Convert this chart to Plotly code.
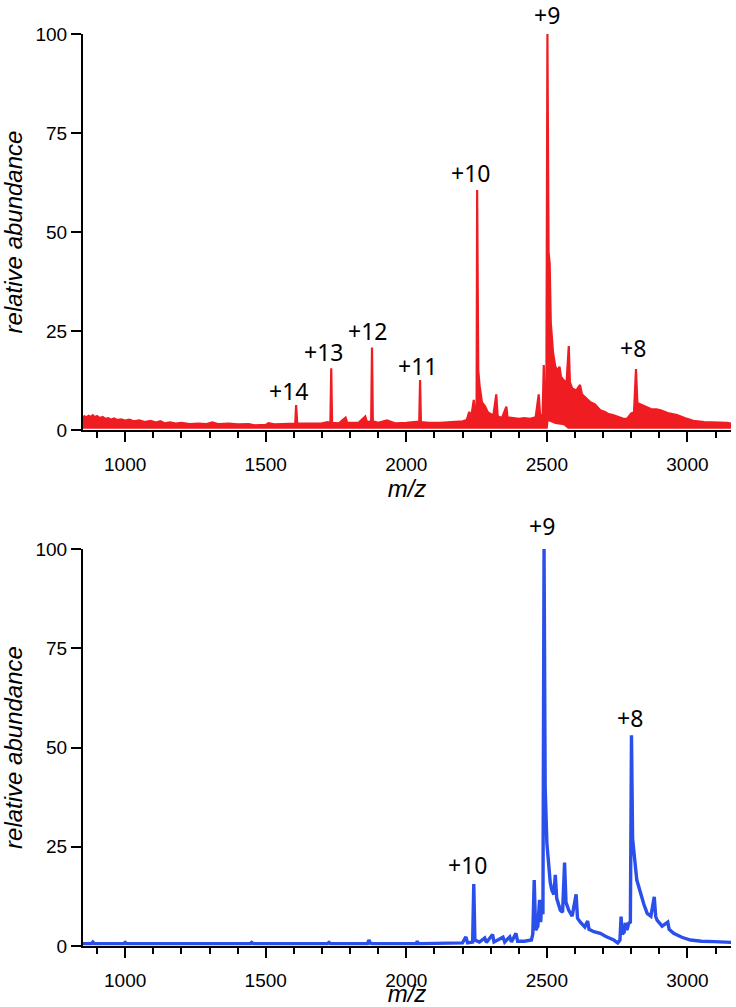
import plotly.graph_objects as go

RED = "#EF1D22"
BLUE = "#2A4FEA"

# ---------------- top spectrum (red) ----------------
top_mz = [850, 855, 862, 870, 878, 885, 892, 900, 910, 920, 930, 940, 950, 960, 972, 985,
          1000, 1015, 1030, 1050, 1070, 1090, 1110, 1125, 1140, 1160, 1180, 1200, 1230, 1260,
          1290, 1310, 1330, 1370, 1400, 1440, 1460, 1500, 1510, 1530, 1560, 1590, 1605, 1608,
          1612, 1650, 1700, 1720, 1730, 1733, 1736, 1760, 1784, 1790, 1830, 1854, 1860, 1875,
          1878, 1881, 1900, 1931, 1960, 2000, 2030, 2046, 2049, 2052, 2080, 2120, 2160, 2200,
          2215, 2224, 2230, 2240, 2245, 2250, 2252, 2256, 2261, 2269, 2280, 2290, 2300, 2310,
          2320, 2325, 2340, 2356, 2360, 2380, 2400, 2420, 2440, 2460, 2471, 2476, 2485, 2489,
          2493, 2498, 2502, 2506, 2510, 2514, 2518, 2522, 2530, 2538, 2545, 2550, 2560, 2570,
          2578, 2582, 2590, 2605, 2618, 2625, 2640, 2655, 2670, 2690, 2705, 2720, 2735, 2750,
          2770, 2785, 2800, 2810, 2817, 2822, 2833, 2850, 2870, 2890, 2905, 2930, 2963, 2990,
          3021, 3060, 3100, 3141, 3160]
top_int = [3.0, 3.5, 3.2, 3.6, 3.3, 3.7, 3.2, 3.5, 3.0, 3.3, 2.8, 3.0, 2.6, 2.9, 2.5, 2.7,
           2.4, 2.6, 2.2, 2.4, 2.0, 2.3, 1.9, 2.2, 1.7, 1.9, 1.6, 1.8, 1.5, 1.6,
           1.5, 1.9, 1.5, 1.6, 1.4, 1.5, 1.2, 1.3, 1.7, 1.4, 1.5, 1.6, 1.6, 6.3,
           1.6, 1.6, 1.7, 2.0, 1.8, 15.6, 1.8, 1.7, 3.1, 1.8, 1.8, 3.4, 2.0, 2.2,
           20.8, 2.2, 1.8, 2.4, 1.7, 1.8, 2.0, 2.1, 12.6, 2.0, 1.8, 1.8, 2.0, 2.2,
           2.5, 4.6, 2.8, 7.6, 4.0, 5.0, 60.6, 15.0, 11.0, 7.0, 6.0, 4.5, 4.0, 3.8,
           9.0, 3.5, 3.0, 5.9, 3.2, 3.0, 2.8, 3.0, 2.8, 3.2, 9.0, 3.5, 4.0, 16.4,
           5.0, 3.0, 100.0, 45.0, 42.0, 27.0, 22.0, 19.5, 16.0, 15.0, 16.0, 13.5, 12.5, 12.0,
           21.2, 12.0, 10.5, 10.0, 11.4, 9.0, 8.0, 7.0, 6.5, 5.0, 4.6, 4.0, 3.8, 3.4,
           2.9, 2.8, 4.2, 4.5, 15.4, 6.8, 6.5, 6.0, 5.3, 5.2, 5.0, 4.3, 3.8, 3.0,
           2.3, 2.0, 1.9, 1.8, 1.5]
# lower edge of the dense noise band
top_floor_mz = [850, 2503, 2506, 2530, 2560, 2575, 3160]
top_floor_int = [0.3, 0.3, 2.2, 1.5, 1.2, 0.3, 0.3]

# ---------------- bottom spectrum (blue) ----------------
bot_mz = [850, 880, 885, 890, 900, 950, 995, 1000, 1005, 1050, 1150, 1300, 1445, 1450, 1455,
          1520, 1720, 1725, 1730, 1800, 1862, 1867, 1872, 1880,
          2000, 2035, 2039, 2043, 2050, 2150, 2200, 2212, 2218, 2236, 2240, 2244, 2260, 2279, 2285, 2307,
          2312, 2344, 2350, 2368, 2374, 2390, 2396, 2420, 2445, 2450, 2455, 2460, 2468, 2474,
          2478, 2482, 2486, 2490, 2494, 2500, 2506, 2512, 2518, 2525, 2530, 2535, 2548, 2556,
          2563, 2568, 2578, 2590, 2604, 2609, 2619, 2635, 2645, 2650, 2667, 2690, 2710, 2738,
          2752, 2760, 2764, 2768, 2775, 2779, 2785, 2791, 2797, 2801, 2805, 2810, 2815, 2820,
          2833, 2845, 2857, 2870, 2882, 2887, 2892, 2910, 2930, 2935, 2951, 2980, 3011, 3050,
          3094, 3160]
bot_int = [0.6, 0.6, 1.0, 0.6, 0.6, 0.6, 0.6, 0.9, 0.6, 0.6, 0.6, 0.6, 0.6, 0.9, 0.6,
           0.6, 0.6, 0.9, 0.6, 0.6, 0.6, 1.5, 0.7, 0.6,
           0.6, 0.6, 1.2, 0.6, 0.6, 0.7, 0.8, 2.3, 0.8, 1.0, 15.6, 1.5, 1.0, 2.0, 0.9, 2.9,
           1.0, 2.2, 1.0, 2.3, 1.0, 3.2, 1.2, 1.2, 1.5, 3.0, 16.6, 4.0, 5.0, 11.6,
           6.0, 11.0, 8.0, 100.0, 40.0, 26.0, 20.0, 16.0, 14.0, 13.0, 17.9, 12.0, 9.0, 8.5,
           21.0, 11.0, 9.0, 7.5, 13.0, 7.0, 6.0, 4.8, 6.3, 4.2, 3.6, 3.2, 2.4, 1.5,
           0.8, 1.5, 7.4, 3.0, 3.5, 5.8, 4.0, 5.7, 6.0, 53.1, 27.0, 22.0, 20.0, 16.6,
           13.3, 10.5, 8.2, 7.5, 12.4, 7.5, 6.5, 5.0, 6.0, 4.2, 3.2, 2.2, 1.5, 1.2,
           1.1, 0.9]

# ---------------- charge-state labels ----------------
top_labels = ["+14", "+13", "+12", "+11", "+10", "+9", "+8"]
top_label_mz = [1580, 1705, 1861, 2039, 2228, 2502, 2808]
top_label_y = [9.8, 19.7, 25.0, 16.2, 64.9, 100.0, 20.7]
top_label_dy = [0, 0, 0, 0, 0, 19, 0]   # px above the value (labels above the top of the axis)

bot_labels = ["+10", "+9", "+8"]
bot_label_mz = [2216, 2484, 2794]
bot_label_y = [20.4, 100.0, 57.4]
bot_label_dy = [0, 23, 0]

x_ticks = [1000, 1500, 2000, 2500, 3000]
y_ticks = [0, 25, 50, 75, 100]

TICKFONT = dict(family="Liberation Sans, Arial, sans-serif", size=19, color="black")
TITLEFONT = dict(family="Liberation Sans, Arial, sans-serif", size=24, color="black")
LABELFONT = dict(family="Noto Sans, sans-serif", size=23, color="black")

fig = go.Figure()
fig.add_trace(go.Scatter(x=top_floor_mz, y=top_floor_int, mode="lines",
                         line=dict(width=0, color=RED), hoverinfo="skip",
                         showlegend=False, xaxis="x", yaxis="y"))
fig.add_trace(go.Scatter(x=top_mz, y=top_int, mode="lines",
                         line=dict(width=2.2, color=RED), fill="tonexty", fillcolor=RED,
                         showlegend=False, xaxis="x", yaxis="y"))
fig.add_trace(go.Scatter(x=bot_mz, y=bot_int, mode="lines",
                         line=dict(width=3.4, color=BLUE),
                         showlegend=False, xaxis="x2", yaxis="y2"))


def xaxis_cfg(anchor):
    return dict(anchor=anchor, domain=[0, 1], range=[850, 3155], tickvals=x_ticks,
                ticks="outside", ticklen=10, tickwidth=1.5, tickcolor="black",
                minor=dict(dtick=100, tick0=0, ticks="outside", ticklen=6,
                           tickwidth=1.5, tickcolor="black"),
                showline=True, linecolor="black", linewidth=2, showgrid=False,
                zeroline=False, tickfont=TICKFONT, automargin=False,
                ticklabelstandoff=6,
                title=dict(text="<i>m/z</i>", font=TITLEFONT, standoff=0))


def yaxis_cfg(anchor, domain):
    return dict(anchor=anchor, domain=domain, range=[0, 100], tickvals=y_ticks,
                ticks="outside", ticklen=10, tickwidth=1.5, tickcolor="black",
                showline=True, linecolor="black", linewidth=2, showgrid=False,
                zeroline=False, tickfont=TICKFONT, automargin=False,
                title=dict(text="<i>relative abundance</i>", font=TITLEFONT, standoff=8))


annotations = []
for t, x, y, dy in zip(top_labels, top_label_mz, top_label_y, top_label_dy):
    annotations.append(dict(text=t, x=x, y=y, xref="x", yref="y", showarrow=False,
                            xanchor="center", yanchor="middle", yshift=dy, font=LABELFONT))
for t, x, y, dy in zip(bot_labels, bot_label_mz, bot_label_y, bot_label_dy):
    annotations.append(dict(text=t, x=x, y=y, xref="x2", yref="y2", showarrow=False,
                            xanchor="center", yanchor="middle", yshift=dy, font=LABELFONT))

fig.update_layout(
    width=736, height=1007,
    margin=dict(l=83, r=5, t=34, b=61),
    paper_bgcolor="white", plot_bgcolor="white",
    xaxis=xaxis_cfg("y"),
    yaxis=yaxis_cfg("x", [0.5658, 1.0]),
    xaxis2=xaxis_cfg("y2"),
    yaxis2=yaxis_cfg("x2", [0.0, 0.4353]),
    annotations=annotations,
    showlegend=False,
)

# remove the default 8 px page margin so the figure fills the window exactly
fig.write_html("out.html", config={"displayModeBar": False},
               post_script="document.body.style.margin='0';document.body.style.overflow='hidden';")
